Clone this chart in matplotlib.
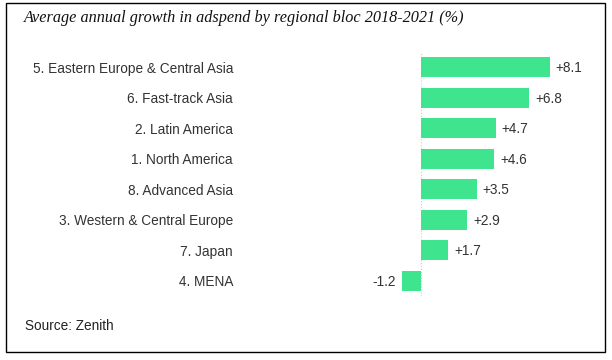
import matplotlib.pyplot as plt
from matplotlib.patches import Rectangle

regions = ['5. Eastern Europe & Central Asia', '6. Fast-track Asia', '2. Latin America',
           '1. North America', '8. Advanced Asia', '3. Western & Central Europe',
           '7. Japan', '4. MENA']
growth = [8.1, 6.8, 4.7, 4.6, 3.5, 2.9, 1.7, -1.2]

W, H = 612, 360
fig = plt.figure(figsize=(W / 100, H / 100), dpi=100)

# box around the whole chart
fig.patches.append(Rectangle((5.5 / W, 1 - 352 / H), 599.5 / W, 349 / H, transform=fig.transFigure,
                             fill=False, edgecolor='black', linewidth=1.0))

# axes placed in pixel terms: zero at x=421, ~15.9 px per unit
left, right = 380, 600
ax = fig.add_axes([left / W, 1 - 296 / H, (right - left) / W, 244 / H])
px = 15.9
ax.set_xlim((left - 421) / px, (right - 421) / px)
ax.set_ylim(len(regions) - 0.5, -0.5)

y = list(range(len(regions)))
ax.barh(y, growth, height=0.66, color='#3fe48e')
ax.axvline(0, color='#cccccc', linewidth=0.8, linestyle=':', zorder=0)

for yi, v in zip(y, growth):
    txt = f'+{v}' if v > 0 else f'{v}'
    off = 0.38 if v > 0 else -0.38
    ax.text(v + off, yi + 0.03, txt, va='center', ha='left' if v > 0 else 'right',
            fontsize=9.8, color='#333333', family='Liberation Sans')

ax.set_yticks(y)
ax.set_yticklabels(regions, fontsize=9.8, color='#333333', family='Liberation Sans')
ax.tick_params(axis='y', length=0, pad=(left - 233) * 0.72)
ax.set_xticks([])
for s in ax.spines.values():
    s.set_visible(False)

fig.text(24 / W, 1 - 18.5 / H, 'Average annual growth in adspend by regional bloc 2018-2021 (%)',
         family='Liberation Serif', style='italic', fontsize=11.7, color='#111111', va='center')
fig.text(25 / W, 1 - 326 / H, 'Source: Zenith', family='Liberation Sans', fontsize=9.8,
         color='#222222', va='center')

fig.savefig('out.png', dpi=100)
